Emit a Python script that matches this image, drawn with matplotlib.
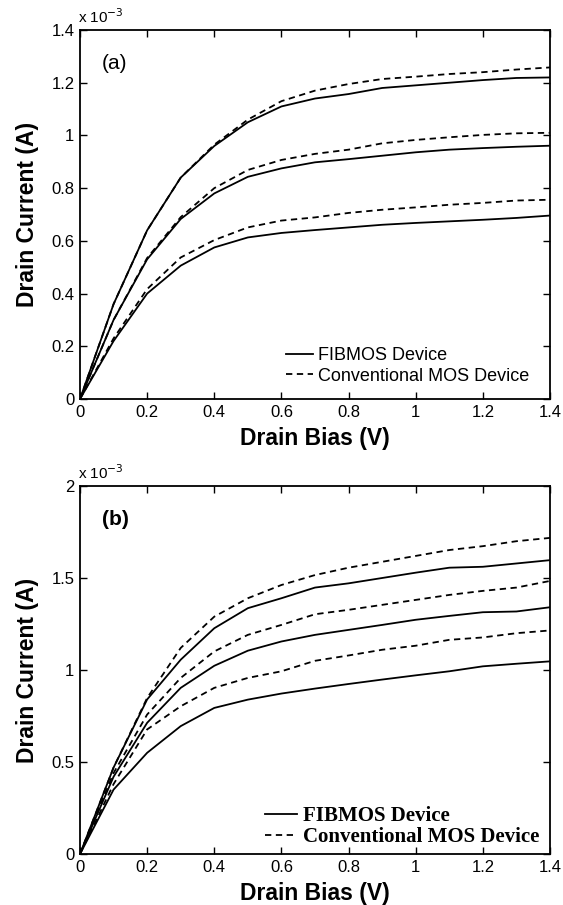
import matplotlib
matplotlib.use("Agg")
import matplotlib.pyplot as plt
from matplotlib.lines import Line2D

# Drain bias (V)
vd = [0.0, 0.1, 0.2, 0.3, 0.4, 0.5, 0.6, 0.7, 0.8, 0.9, 1.0, 1.1, 1.2, 1.3, 1.4]

# Panel (a): drain current (x 1e-3 A)
a_fib_hi = [0, 0.36, 0.64, 0.84, 0.96, 1.05, 1.11, 1.14, 1.157, 1.18, 1.19, 1.20, 1.21, 1.218, 1.22]
a_con_hi = [0, 0.36, 0.64, 0.84, 0.965, 1.06, 1.13, 1.170, 1.195, 1.214, 1.223, 1.233, 1.24, 1.25, 1.258]
a_fib_mid = [0, 0.30, 0.53, 0.683, 0.78, 0.843, 0.875, 0.898, 0.91, 0.923, 0.936, 0.946, 0.952, 0.957, 0.961]
a_con_mid = [0, 0.30, 0.535, 0.69, 0.80, 0.869, 0.907, 0.93, 0.946, 0.97, 0.983, 0.993, 1.002, 1.008, 1.01]
a_fib_lo = [0, 0.22, 0.40, 0.506, 0.575, 0.613, 0.63, 0.641, 0.651, 0.661, 0.668, 0.674, 0.68, 0.687, 0.696]
a_con_lo = [0, 0.23, 0.417, 0.537, 0.603, 0.651, 0.677, 0.689, 0.706, 0.718, 0.727, 0.737, 0.744, 0.753, 0.756]

# Panel (b): drain current (x 1e-3 A)
b_fib_hi = [0, 0.47, 0.84, 1.056, 1.227, 1.336, 1.39, 1.448, 1.471, 1.50, 1.529, 1.556, 1.561, 1.579, 1.597]
b_con_hi = [0, 0.47, 0.848, 1.12, 1.29, 1.39, 1.462, 1.516, 1.556, 1.588, 1.62, 1.652, 1.673, 1.70, 1.718]
b_fib_mid = [0, 0.42, 0.713, 0.903, 1.023, 1.105, 1.155, 1.191, 1.218, 1.245, 1.273, 1.294, 1.314, 1.318, 1.341]
b_con_mid = [0, 0.44, 0.758, 0.957, 1.101, 1.191, 1.245, 1.303, 1.327, 1.354, 1.381, 1.408, 1.43, 1.448, 1.484]
b_fib_lo = [0, 0.35, 0.55, 0.695, 0.794, 0.839, 0.872, 0.899, 0.924, 0.948, 0.971, 0.993, 1.02, 1.034, 1.047]
b_con_lo = [0, 0.38, 0.677, 0.803, 0.903, 0.957, 0.993, 1.05, 1.079, 1.11, 1.132, 1.164, 1.177, 1.20, 1.215]

xticks = [0, 0.2, 0.4, 0.6, 0.8, 1.0, 1.2, 1.4]
xtick_labels = ["0", "0.2", "0.4", "0.6", "0.8", "1", "1.2", "1.4"]
a_yticks = [0, 0.2, 0.4, 0.6, 0.8, 1.0, 1.2, 1.4]
a_ytick_labels = ["0", "0.2", "0.4", "0.6", "0.8", "1", "1.2", "1.4"]
b_yticks = [0, 0.5, 1.0, 1.5, 2.0]
b_ytick_labels = ["0", "0.5", "1", "1.5", "2"]

legend_labels = ["FIBMOS Device", "Conventional MOS Device"]

plt.rcParams['font.family'] = ['Liberation Sans', 'DejaVu Sans']

W, H = 563, 905
fig = plt.figure(figsize=(W / 100, H / 100), dpi=100)

L, R = 80, 550
ax1 = fig.add_axes([L / W, 1 - 399 / H, (R - L) / W, (399 - 30) / H])
ax2 = fig.add_axes([L / W, 1 - 854 / H, (R - L) / W, (854 - 486) / H])

lw = 1.3
dash = (0, (3.5, 2.5))

def style(ax, yticks, ylabels, ymax):
    ax.set_xlim(0, 1.4)
    ax.set_ylim(0, ymax)
    ax.set_xticks(xticks)
    ax.set_xticklabels(xtick_labels)
    ax.set_yticks(yticks)
    ax.set_yticklabels(ylabels)
    ax.tick_params(direction='in', length=5, width=1, top=True, right=True,
                   labelsize=12, pad=4, colors='black')
    for s in ax.spines.values():
        s.set_linewidth(1.3)
    ax.set_xlabel("Drain Bias (V)", fontsize=16.5, fontweight='bold', labelpad=5)
    ax.set_ylabel("Drain Current (A)", fontsize=16.5, fontweight='bold', labelpad=9)
    ax.text(-0.005, 1.01, r"x 10$^{-3}$", transform=ax.transAxes, fontsize=11,
            ha='left', va='bottom')

for ax, data in [(ax1, [(a_fib_hi, a_con_hi), (a_fib_mid, a_con_mid), (a_fib_lo, a_con_lo)]),
                 (ax2, [(b_fib_hi, b_con_hi), (b_fib_mid, b_con_mid), (b_fib_lo, b_con_lo)])]:
    for fib, con in data:
        ax.plot(vd, fib, color='black', lw=lw, linestyle='-')
        ax.plot(vd, con, color='black', lw=lw, linestyle=dash)

style(ax1, a_yticks, a_ytick_labels, 1.4)
style(ax2, b_yticks, b_ytick_labels, 2.0)

ax1.text(0.046, 0.91, "(a)", transform=ax1.transAxes, fontsize=15, ha='left', va='center')
ax2.text(0.046, 0.91, "(b)", transform=ax2.transAxes, fontsize=15, ha='left', va='center',
         fontweight='bold')

handles = [Line2D([], [], color='black', lw=lw, linestyle='-'),
           Line2D([], [], color='black', lw=lw, linestyle=dash)]
ax1.legend(handles, legend_labels, loc='upper left', bbox_to_anchor=(0.438, 0.141),
           frameon=False, fontsize=13, handlelength=1.5, handletextpad=0.28,
           labelspacing=0.2, borderpad=0, borderaxespad=0)
ax2.legend(handles, legend_labels, loc='upper left', bbox_to_anchor=(0.394, 0.130),
           frameon=False, handlelength=1.55, handletextpad=0.25,
           labelspacing=0.05, borderpad=0, borderaxespad=0,
           prop={'family': 'Liberation Serif', 'weight': 'bold', 'size': 15})

fig.savefig("out.png", dpi=100)
